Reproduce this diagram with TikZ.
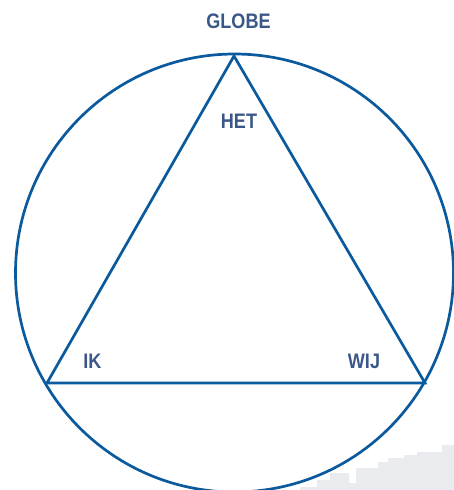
\documentclass[tikz,border=0pt]{standalone}
\usepackage{fontspec}
\setmainfont{Liberation Sans}[BoldFont={Liberation Sans Bold}]
\definecolor{lineblue}{HTML}{0B5A9E}
\definecolor{txtblue}{HTML}{3A5788}
\definecolor{stairgray}{HTML}{E9EBEF}
\begin{document}
\begin{tikzpicture}[x=1pt,y=-1pt,
  shape line/.style={draw=lineblue,line width=2.7pt},
  lbl/.style={text=txtblue,font=\bfseries\fontsize{21}{23}\selectfont,inner sep=0pt,anchor=center}]
\useasboundingbox (0,0) rectangle (454,490);
\fill[stairgray] (300,490) -- (300,487) -- (317,487) -- (317,480) -- (330,480) -- (330,473) -- (349,473) -- (349,483) -- (356,483) -- (356,468) -- (378,468) -- (378,462) -- (388,462) -- (388,458) -- (404,458) -- (404,455) -- (417,455) -- (417,452) -- (442,452) -- (442,445) -- (454,445) -- (454,490) -- cycle;
\node[circle,shape line,minimum size=438pt,inner sep=0pt] (globe) at (234.5,273) {};
\coordinate (top) at (234,56);
\coordinate (left) at (47,383);
\coordinate (right) at (425,383);
\draw[draw=lineblue,line width=2.7pt,line join=miter] (top) -- (left) -- (right) -- cycle;
\node[lbl] (tglobe) at (238.5,21) {\scalebox{0.86}[1]{\bfseries GLOBE}};
\node[lbl] (thet) at (239,121) {\scalebox{0.86}[1]{\bfseries HET}};
\node[lbl] (tik) at (92.5,361) {\scalebox{0.86}[1]{\bfseries IK}};
\node[lbl] (twij) at (364,361) {\scalebox{0.86}[1]{\bfseries WIJ}};
\end{tikzpicture}
\end{document}
